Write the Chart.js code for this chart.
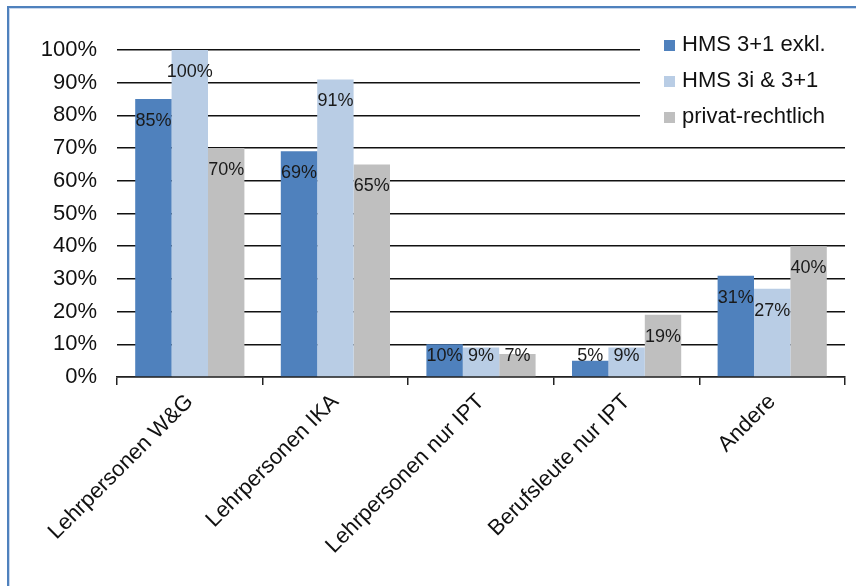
<!DOCTYPE html>
<html lang="de">
<head>
<meta charset="UTF-8">
<title>Lehrpersonen nach Schultyp</title>
<script src="https://cdn.jsdelivr.net/npm/chart.js@4.4.0/dist/chart.umd.min.js"></script>
<style>
    html, body { margin: 0; padding: 0; background: #fff; overflow: hidden; }
    .frame {
        position: absolute; left: 7px; top: 6px; width: 900px; height: 700px;
        border: 2px solid #4f81bd; box-shadow: inset 1px 1px 0 #c9d7ec;
    }
    .wrap { position: absolute; left: 0; top: 0; width: 856px; height: 586px; }
</style>
</head>
<body>
<div class="frame"></div>
<div class="wrap"><canvas id="chart"></canvas></div>
<script>
    var categories = ['Lehrpersonen W&G', 'Lehrpersonen IKA', 'Lehrpersonen nur IPT', 'Berufsleute nur IPT', 'Andere'];
    var seriesNames = ['HMS 3+1 exkl.', 'HMS 3i & 3+1', 'privat-rechtlich'];
    var hms31 = [85, 69, 10, 5, 31];
    var hms3i = [100, 91, 9, 9, 27];
    var privat = [70, 65, 7, 19, 40];
    var colors = ['#4f81bd', '#b9cde5', '#bfbfbf'];

    var fontFamily = '"Liberation Sans", Arial, sans-serif';

    // Werte innen oben in die Balken schreiben
    var valueLabels = {
        id: 'valueLabels',
        afterDatasetsDraw: function (chart) {
            var ctx = chart.ctx;
            ctx.save();
            ctx.font = '18px ' + fontFamily;
            ctx.fillStyle = '#1a1a1a';
            ctx.textAlign = 'center';
            ctx.textBaseline = 'middle';
            chart.data.datasets.forEach(function (ds, i) {
                chart.getDatasetMeta(i).data.forEach(function (bar, j) {
                    var y = Math.min(bar.y + 22, bar.base - 20);
                    ctx.fillText(ds.data[j] + '%', bar.x, y);
                });
            });
            ctx.restore();
        }
    };

    // Legende oben rechts, über dem Raster
    var boxLegend = {
        id: 'boxLegend',
        afterDraw: function (chart) {
            var ctx = chart.ctx;
            ctx.save();
            ctx.fillStyle = '#fff';
            ctx.fillRect(640, 24, 216, 116);
            ctx.font = '22px ' + fontFamily;
            ctx.textBaseline = 'middle';
            ctx.textAlign = 'left';
            chart.data.datasets.forEach(function (ds, i) {
                var y = 45 + i * 36;
                ctx.fillStyle = ds.backgroundColor;
                ctx.fillRect(664, y - 5, 11, 11);
                ctx.fillStyle = '#111';
                ctx.fillText(ds.label, 682, y);
            });
            ctx.restore();
        }
    };

    new Chart(document.getElementById('chart'), {
        type: 'bar',
        data: {
            labels: categories,
            datasets: [
                { label: seriesNames[0], data: hms31, backgroundColor: colors[0] },
                { label: seriesNames[1], data: hms3i, backgroundColor: colors[1] },
                { label: seriesNames[2], data: privat, backgroundColor: colors[2] }
            ]
        },
        options: {
            responsive: true,
            maintainAspectRatio: false,
            animation: false,
            layout: { padding: { top: 50, right: 11, left: 0, bottom: 0 } },
            datasets: { bar: { categoryPercentage: 0.75, barPercentage: 1.0 } },
            plugins: { legend: { display: false }, tooltip: { enabled: false } },
            scales: {
                x: {
                    grid: { offset: true, drawOnChartArea: false, drawTicks: true, tickLength: 8, color: '#222', lineWidth: 1.5 },
                    border: { display: true, color: '#222', width: 1.5 },
                    ticks: {
                        color: '#111', font: { family: fontFamily, size: 22 },
                        maxRotation: 45, minRotation: 45, padding: 4
                    },
                    afterFit: function (scale) { scale.height = 209; }
                },
                y: {
                    min: 0, max: 100,
                    grid: { color: '#111', lineWidth: 1.5, drawTicks: false },
                    border: { display: false },
                    ticks: {
                        stepSize: 10, padding: 20, color: '#111',
                        font: { family: fontFamily, size: 22 },
                        callback: function (v) { return v + '%'; }
                    },
                    afterFit: function (scale) { scale.width = 117; }
                }
            }
        },
        plugins: [valueLabels, boxLegend]
    });
</script>
</body>
</html>
